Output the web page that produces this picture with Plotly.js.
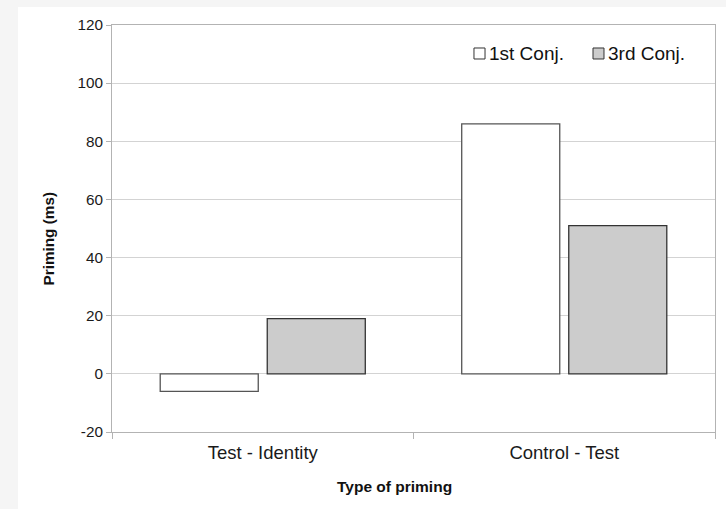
<!DOCTYPE html>
<html>
<head>
<meta charset="utf-8">
<script src="https://cdn.plot.ly/plotly-3.0.1.min.js"></script>
<style>
html,body{margin:0;padding:0;background:#f5f5f5;width:726px;height:509px;overflow:hidden;}
#chart{position:absolute;left:18px;top:7px;width:708px;height:502px;}
</style>
</head>
<body>
<div id="chart"></div>
<script>
const categories = ["Test - Identity", "Control - Test"];
const seriesNames = ["1st Conj.", "3rd Conj."];
const conj1 = [-6, 86];
const conj3 = [19, 51];
const yTicks = [-20, 0, 20, 40, 60, 80, 100, 120];
const xTitle = "Type of priming";
const yTitle = "Priming (ms)";
const fills = ['#ffffff', '#cccccc'];
const outlines = ['#555555', '#333333'];

const traces = [
  {type:'bar', name:seriesNames[0], x:categories, y:conj1,
   marker:{color:fills[0], line:{color:outlines[0], width:1.3}}, hoverinfo:'none'},
  {type:'bar', name:seriesNames[1], x:categories, y:conj3,
   marker:{color:fills[1], line:{color:outlines[1], width:1.3}}, hoverinfo:'none'}
];

// custom legend (small swatch right next to the label)
const legendSwatchX = [[0.6003, 0.6186], [0.7977, 0.8159]];
const legendTextX = [0.6240, 0.8214];
const shapes = legendSwatchX.map((sx, i) => ({
  type:'rect', xref:'paper', yref:'paper', x0:sx[0], x1:sx[1], y0:0.9165, y1:0.9435,
  fillcolor:fills[i], line:{color:'#333333', width:1}
}));
const annotations = seriesNames.map((n, i) => ({
  xref:'paper', yref:'paper', x:legendTextX[i], y:0.9300, xanchor:'left', yanchor:'middle',
  text:n, showarrow:false, font:{size:19, color:'#111111'}, borderpad:0
}));
// axis titles placed as in the reference (slightly off-centre)
annotations.push({
  xref:'paper', yref:'paper', x:0.469, y:0, yanchor:'middle', xanchor:'center', yshift:-54,
  text:'<b>' + xTitle + '</b>', showarrow:false, font:{size:15.5, color:'#111'}
});
annotations.push({
  xref:'paper', yref:'paper', x:-0.1045, y:0.4754, yanchor:'middle', xanchor:'center',
  textangle:-90, text:'<b>' + yTitle + '</b>', showarrow:false, font:{size:15.3, color:'#111'}
});

const layout = {
  width:708, height:502,
  margin:{l:94, r:11, t:18, b:77},
  paper_bgcolor:'#ffffff', plot_bgcolor:'#ffffff',
  font:{family:'"Liberation Sans", Arial, sans-serif', color:'#222222'},
  barmode:'group', bargap:0.29, bargroupgap:0.084,
  showlegend:false,
  shapes:shapes, annotations:annotations,
  xaxis:{type:'category', range:[-0.5,1.5], showgrid:false, zeroline:false,
         showline:true, linecolor:'#b3b3b3', linewidth:1, mirror:true,
         ticks:'outside', tickson:'boundaries', ticklen:6, tickcolor:'#b3b3b3',
         ticklabelstandoff:4,
         tickfont:{size:18.5, color:'#1a1a1a'}},
  yaxis:{range:[-20,120], tickvals:yTicks, ticktext:yTicks.map(String),
         showgrid:true, gridcolor:'#d3d3d3', gridwidth:1, zeroline:false,
         showline:true, linecolor:'#b3b3b3', linewidth:1, mirror:true,
         ticks:'outside', ticklen:5, tickcolor:'#b3b3b3',
         tickfont:{size:15.3, color:'#1a1a1a'}}
};

Plotly.newPlot('chart', traces, layout, {displayModeBar:false, staticPlot:true});
</script>
</body>
</html>
